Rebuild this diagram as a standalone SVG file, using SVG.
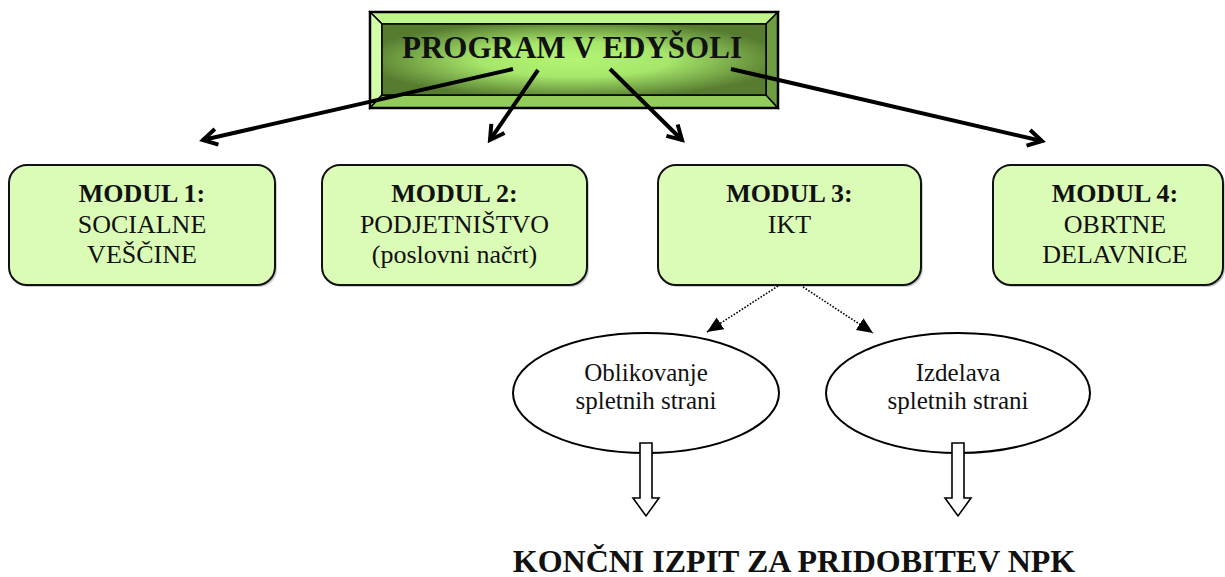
<svg xmlns="http://www.w3.org/2000/svg" width="1225" height="577" viewBox="0 0 1225 577">
<style>
.mod{fill:#dafcb6;stroke:#111;stroke-width:2}
.shadow{fill:#9a9a9a;opacity:.5}
.t{font-family:"Liberation Serif","Times New Roman",serif;fill:#111;text-anchor:middle}
.b{font-weight:bold}
.main{stroke:#000;stroke-width:4;fill:none}
.dot{stroke:#000;stroke-width:1.6;fill:none;stroke-dasharray:1.6 1.6}
.ell{fill:#fff;stroke:#000;stroke-width:2}
.hollow{fill:#fff;stroke:#000;stroke-width:1.6;stroke-linejoin:miter}
</style>
<defs>
<radialGradient id="g" cx="50%" cy="50%" r="55%">
<stop offset="0" stop-color="#b4f474"/>
<stop offset="0.45" stop-color="#a6e66a"/>
<stop offset="1" stop-color="#577c30"/>
</radialGradient>
<marker id="open" markerUnits="userSpaceOnUse" markerWidth="24" markerHeight="24" viewBox="0 0 24 24" refX="20" refY="12" orient="auto">
<path d="M6,4 L20,12 L6,20" fill="none" stroke="#000" stroke-width="4"/>
</marker>
<marker id="tri" markerUnits="userSpaceOnUse" markerWidth="16" markerHeight="14" viewBox="0 0 16 14" refX="16" refY="7" orient="auto">
<path d="M0,0 L16,7 L0,14 z" fill="#000"/>
</marker>
</defs>

<g id="program">
<rect x="370" y="12" width="408" height="96" fill="#93cc5a"/>
<polygon points="370,12 778,12 766,24 382,24" fill="#bff58a" stroke="#000" stroke-width="1.5"/>
<polygon points="370,12 382,24 382,95 370,108" fill="#d3ffa8" stroke="#000" stroke-width="1.5"/>
<polygon points="370,108 778,108 766,95 382,95" fill="#93cc5a" stroke="#000" stroke-width="1.5"/>
<polygon points="778,12 778,108 766,95 766,24" fill="#6f9e42" stroke="#000" stroke-width="1.5"/>
<rect x="382" y="24" width="384" height="71" fill="url(#g)" stroke="#000" stroke-width="1.5"/>
<rect x="370" y="12" width="408" height="96" fill="none" stroke="#000" stroke-width="2.5"/>
<text class="t b" x="572" y="58" font-size="31">PROGRAM V EDYŠOLI</text>
</g>

<g id="modul1">
<rect class="shadow" x="11" y="167" width="266" height="120" rx="18"/>
<rect class="mod" x="9" y="165" width="266" height="120" rx="18"/>
<text class="t b" x="142" y="202" font-size="26">MODUL 1:</text>
<text class="t" x="142" y="233" font-size="26">SOCIALNE</text>
<text class="t" x="142" y="263" font-size="26">VEŠČINE</text>
</g>

<g id="modul2">
<rect class="shadow" x="324" y="167" width="265" height="120" rx="18"/>
<rect class="mod" x="322" y="165" width="265" height="120" rx="18"/>
<text class="t b" x="454.5" y="202" font-size="26">MODUL 2:</text>
<text class="t" x="454.5" y="233" font-size="26">PODJETNIŠTVO</text>
<text class="t" x="454.5" y="263" font-size="26">(poslovni načrt)</text>
</g>

<g id="modul3">
<rect class="shadow" x="660" y="167" width="263" height="120" rx="18"/>
<rect class="mod" x="658" y="165" width="263" height="120" rx="18"/>
<text class="t b" x="789.5" y="202" font-size="26">MODUL 3:</text>
<text class="t" x="789.5" y="233" font-size="26">IKT</text>
</g>

<g id="modul4">
<rect class="shadow" x="995" y="167" width="230" height="120" rx="18"/>
<rect class="mod" x="993" y="165" width="230" height="120" rx="18"/>
<text class="t b" x="1115" y="202" font-size="26">MODUL 4:</text>
<text class="t" x="1115" y="233" font-size="26">OBRTNE</text>
<text class="t" x="1115" y="263" font-size="26">DELAVNICE</text>
</g>

<g id="oblikovanje">
<ellipse class="ell" cx="646" cy="393" rx="133" ry="60"/>
<text class="t" x="646" y="381" font-size="25">Oblikovanje</text>
<text class="t" x="646" y="409" font-size="25">spletnih strani</text>
</g>

<g id="izdelava">
<ellipse class="ell" cx="958" cy="393" rx="132" ry="60"/>
<text class="t" x="958" y="381" font-size="25">Izdelava</text>
<text class="t" x="958" y="409" font-size="25">spletnih strani</text>
</g>

<g id="koncni">
<text class="t b" x="794" y="572" font-size="32">KONČNI IZPIT ZA PRIDOBITEV NPK</text>
</g>

<g id="connectors">
<line class="main" x1="513" y1="69" x2="203" y2="140" marker-end="url(#open)"/>
<line class="main" x1="538" y1="70" x2="490" y2="140" marker-end="url(#open)"/>
<line class="main" x1="610" y1="69" x2="682" y2="140" marker-end="url(#open)"/>
<line class="main" x1="731" y1="69" x2="1042" y2="141" marker-end="url(#open)"/>
<line class="dot" x1="778" y1="286" x2="707" y2="332" marker-end="url(#tri)"/>
<line class="dot" x1="803" y1="287" x2="873" y2="333" marker-end="url(#tri)"/>
<polygon class="hollow" points="640,443 652,443 652,498 659,498 646,516 633,498 640,498"/>
<polygon class="hollow" points="952,443 964,443 964,498 971,498 958,516 945,498 952,498"/>
</g>
</svg>
